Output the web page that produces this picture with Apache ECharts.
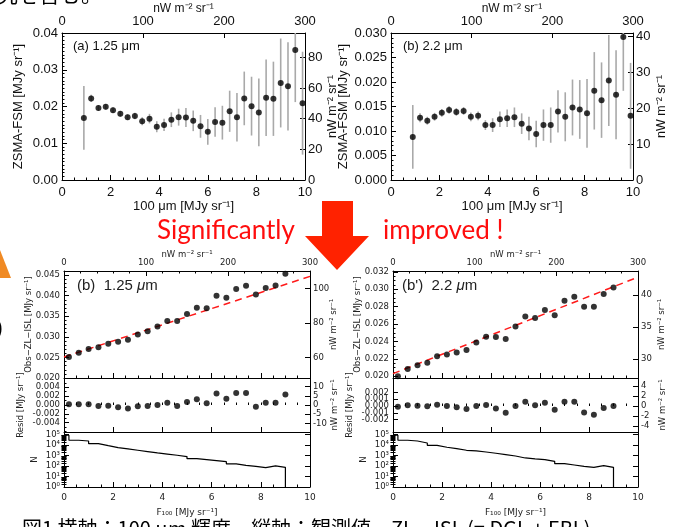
<!DOCTYPE html>
<html><head><meta charset="utf-8">
<script src="https://cdn.jsdelivr.net/npm/echarts@6/dist/echarts.min.js"></script>
<style>html,body{margin:0;padding:0;background:#fff}#c{width:674px;height:527px}</style>
</head><body><div id="c"></div><script>
// ---------------- data ----------------
// unit conversions (nW m^-2 sr^-1 per MJy sr^-1)
const NU100 = 30, NU125 = 2398, NU22 = 1363;

// top panels: ZSMA-FSM vs 100um
const topX = [0.9,1.2,1.5,1.8,2.1,2.4,2.7,3.0,3.3,3.6,3.9,4.2,4.5,4.8,5.1,5.4,5.7,6.0,6.3,6.6,6.9,7.2,7.5,7.8,8.1,8.4,8.7,9.0,9.3,9.6,9.9];
const zsma125 = [0.0169,0.0222,0.0196,0.0199,0.0190,0.0180,0.0171,0.0174,0.0160,0.0167,0.0145,0.0150,0.0164,0.0171,0.0170,0.0161,0.0146,0.0131,0.0158,0.0156,0.0187,0.0171,0.0222,0.0201,0.0184,0.0224,0.0221,0.0264,0.0255,0.0354,0.0209];
const err125 = [0.0087,0.0010,0.0008,0.0008,0.0008,0.0008,0.0008,0.0009,0.0011,0.0013,0.0015,0.0017,0.0020,0.0023,0.0026,0.0028,0.0031,0.0035,0.0040,0.0046,0.0056,0.0066,0.0073,0.0080,0.0092,0.0104,0.0101,0.0121,0.0120,0.0142,0.0140];
const zsma22 = [0.0088,0.0127,0.0121,0.0129,0.0137,0.0143,0.0139,0.0141,0.0129,0.0131,0.0112,0.0112,0.0124,0.0126,0.0128,0.0115,0.0105,0.0094,0.0112,0.0112,0.0140,0.0129,0.0148,0.0144,0.0136,0.0182,0.0163,0.0203,0.0174,0.0292,0.0131];
const err22 = [0.0065,0.0009,0.0008,0.0008,0.0008,0.0008,0.0008,0.0008,0.0009,0.0009,0.0010,0.0014,0.0016,0.0018,0.0020,0.0021,0.0024,0.0027,0.0032,0.0036,0.0043,0.0050,0.0057,0.0060,0.0070,0.0079,0.0077,0.0093,0.0091,0.0110,0.0108];

// bottom panels: Obs-ZL-ISL vs F100
const fitX = [0.2,0.6,1.0,1.4,1.8,2.2,2.6,3.0,3.4,3.8,4.2,4.6,5.0,5.4,5.8,6.2,6.6,7.0,7.4,7.8,8.2,8.6,9.0];
const obs125 = [0.02508,0.02613,0.02702,0.02750,0.02831,0.02879,0.02927,0.03056,0.03137,0.03250,0.03387,0.03387,0.03556,0.03710,0.03694,0.04000,0.03952,0.04161,0.04242,0.04032,0.04185,0.04250,0.04532];
const resid125 = [0.00015,0.00015,0.00015,-0.0002,-0.00015,-0.0005,-0.0008,-0.0003,-0.0002,0.0000,0.0005,-0.0002,0.0007,0.0013,0.0004,0.0026,0.0014,0.0027,0.0027,-0.0004,0.0005,0.0005,0.0024];
const fit125 = [0.0251, 0.00196];   // intercept, slope
const obs22 = [0.02000,0.02084,0.02126,0.02156,0.02229,0.02251,0.02274,0.02301,0.02389,0.02453,0.02450,0.02427,0.02571,0.02686,0.02670,0.02762,0.02701,0.02869,0.02914,0.02800,0.02800,0.02945,0.03021];
const resid22 = [-0.0001,0.0001,0.00005,-0.00005,0.0002,0.0,-0.0002,-0.00045,0.0,0.00015,-0.00035,-0.001,0.0,0.00065,0.0001,0.0005,-0.00055,0.00065,0.00065,-0.00095,-0.0013,-0.0003,0.0];
const fit22 = [0.0203, 0.00111];
// pixel-count histograms (bin left edges, counts)
const histEdges = [0,0.2,0.6,1.0,1.4,1.8,2.2,2.6,3.0,3.4,3.8,4.2,4.6,5.0,5.4,5.8,6.2,6.6,7.0,7.4,7.8,8.2,8.6];
const histEnd = 9.0;
const hist125 = [87000,29000,24500,13800,8900,5800,4300,3200,2400,1800,1400,1070,800,510,410,330,260,160,117,93,71,102,76];
const hist22 = [87000,29000,24500,15800,9500,6200,4600,3200,2750,2200,1660,1230,910,590,480,410,280,170,126,93,76,110,76];

// ticks
const xTicks = [0,2,4,6,8,10], xTickLabels = ['0','2','4','6','8','10'];
const nwTicks = [0,100,200,300], nwTickLabels = ['0','100','200','300'];
const yTicksA = [0,0.01,0.02,0.03,0.04], yLabelsA = ['0.00','0.01','0.02','0.03','0.04'];
const rTicksA = [0,20,40,60,80], rLabelsA = ['0','20','40','60','80'];
const yTicksB = [0,0.005,0.010,0.015,0.020,0.025,0.030], yLabelsB = ['0.000','0.005','0.010','0.015','0.020','0.025','0.030'];
const rTicksB = [0,10,20,30,40], rLabelsB = ['0','10','20','30','40'];
const yTicksC = [0.020,0.025,0.030,0.035,0.040,0.045], yLabelsC = ['0.020','0.025','0.030','0.035','0.040','0.045'];
const rTicksC = [60,80,100], rLabelsC = ['60','80','100'];
const resTicksC = [-0.004,-0.002,0,0.002,0.004], resLabelsC = ['-0.004','-0.002','0.000','0.002','0.004'];
const resRTicksC = [-10,-5,0,5,10], resRLabelsC = ['-10','-5','0','5','10'];
const yTicksD = [0.020,0.022,0.024,0.026,0.028,0.030,0.032], yLabelsD = ['0.020','0.022','0.024','0.026','0.028','0.030','0.032'];
const rTicksD = [30,35,40], rLabelsD = ['30','35','40'];
const resTicksD = [-0.003,-0.002,-0.001,0,0.001,0.002,0.003], resLabelsD = ['-0.003','-0.002','-0.001','0.000','0.001','0.002','0.003'];
const resRTicksD = [-4,-2,0,2,4], resRLabelsD = ['-4','-2','0','2','4'];
const nTicks = [0,1,2,3,4,5], nLabels = ['10⁰','10¹','10²','10³','10⁴','10⁵'];

// ---------------- helpers ----------------
const F1 = 'Liberation Sans', F2 = 'DejaVu Sans';
function range(a, b, step){ const o=[]; for(let k=0; a+k*step <= b+1e-12; k++) o.push(+(a+k*step).toFixed(7)); return o; }
const logMinors = []; for(let n=0;n<=5;n++) for(let k=2;k<=9;k++){ const v=n+Math.log10(k); if(v<5.25) logMinors.push(v); }

const grids=[], xA=[], yA=[], S=[];
function grid(l,t,w,h){ grids.push({left:l,top:t,width:w,height:h,containLabel:false,outerBoundsMode:'none'}); return grids.length-1; }
function addAxis(list, c){
  const near = v => { let b=0; for(let i=1;i<c.majors.length;i++) if(Math.abs(c.majors[i]-v)<Math.abs(c.majors[b]-v)) b=i; return b; };
  const ax = {
    type:'value', gridIndex:c.gi, position:c.pos, min:c.min, max:c.max,
    axisLine:{show:true, onZero:false, lineStyle:{color:'#000', width:1}},
    splitLine:{show:false},
    axisTick:{show:!!c.majors, inside:true, length:c.tickLen||5, customValues:c.majors, lineStyle:{color:'#000', width:1}},
    axisLabel: c.labels ? {show:true, customValues:c.majors, formatter:v=>c.labels[near(v)], fontFamily:c.font, fontSize:c.size, color:c.color||'#111', margin:c.margin, hideOverlap:false} : {show:false},
    nameMoveOverlap:false
  };
  if(c.name){ Object.assign(ax,{name:c.name, nameLocation:'middle', nameGap:c.nameGap, nameTextStyle:{fontFamily:c.font, fontSize:c.nameSize||c.size, color:c.color||'#111'}}); }
  list.push(ax);
  const idx = list.length-1;
  if(c.minors) list.push({type:'value', gridIndex:c.gi, position:c.pos, min:c.min, max:c.max, axisLine:{show:false}, splitLine:{show:false}, axisLabel:{show:false}, axisTick:{show:true, inside:true, length:c.minorLen||2.5, customValues:c.minors, lineStyle:{color:'#000', width:1}}});
  return idx;
}
function errSeries(xi, yi, xs, ys, es, ymin, ymax){
  return {type:'custom', xAxisIndex:xi, yAxisIndex:yi, silent:true, z:1,
    data: xs.map((x,i)=>[x, Math.max(ymin, ys[i]-es[i]), Math.min(ymax, ys[i]+es[i])]),
    encode:{x:0, y:[1,2]},
    renderItem:(p, api)=>{ const a=api.coord([api.value(0), api.value(1)]), b=api.coord([api.value(0), api.value(2)]);
      return {type:'line', shape:{x1:a[0],y1:a[1],x2:b[0],y2:b[1]}, style:{stroke:'#a9a9a9', lineWidth:1.6}}; }};
}
function dots(xi, yi, xs, ys){ return {type:'scatter', xAxisIndex:xi, yAxisIndex:yi, data:xs.map((x,i)=>[x,ys[i]]), symbolSize:6, itemStyle:{color:'#000'}, z:3, silent:true}; }

// ---------------- top panels ----------------
function topPanel(l, w, ys, es, ymax, ymaj, ylab, yminor, nu, rmaj, rlab, lgap, rgap){
  const g = grid(l,33,w,147);
  const xi = addAxis(xA,{gi:g,pos:'bottom',min:0,max:10,majors:xTicks,labels:xTickLabels,minors:range(0,10,0.5),font:F1,size:13,margin:6,name:'100 μm [MJy sr⁻¹]',nameGap:20});
  addAxis(xA,{gi:g,pos:'top',min:0,max:10*NU100,majors:nwTicks,labels:nwTickLabels,font:F1,size:13,margin:5,name:'nW m⁻² sr⁻¹',nameSize:12,nameGap:18});
  const yi = addAxis(yA,{gi:g,pos:'left',min:0,max:ymax,majors:ymaj,labels:ylab,minors:yminor,font:F1,size:13,margin:4,name:'ZSMA-FSM [MJy sr⁻¹]',nameGap:lgap});
  addAxis(yA,{gi:g,pos:'right',min:0,max:ymax*nu,majors:rmaj,labels:rlab,font:F1,size:13,margin:3,name:'nW m⁻² sr⁻¹',nameSize:12.5,nameGap:rgap});
  S.push(errSeries(xi, yi, topX, ys, es, 0, ymax));
  S.push(dots(xi, yi, topX, ys));
}
topPanel(62, 243, zsma125, err125, 0.04, yTicksA, yLabelsA, range(0,0.04,0.001), NU125, rTicksA, rLabelsA, 37, 21);
topPanel(391, 242, zsma22, err22, 0.03, yTicksB, yLabelsB, range(0,0.03,0.001), NU22, rTicksB, rLabelsB, 41, 22);

// ---------------- bottom panels ----------------
function botPanel(l, w, obs, fit, res, hist, nu, ymin, ymax, ymaj, ylab, yminor, rmaj, rlab, rmin, rmax, resmaj, reslab, resminor, resRmaj, resRlab){
  const g1 = grid(l,271,w,107), g2 = grid(l,378,w,54), g3 = grid(l,432,w,55);
  const c = {font:F2, size:8.5, color:'#222'};
  const x1 = addAxis(xA,{gi:g1,pos:'bottom',min:0,max:10,majors:xTicks,minors:range(0,10,0.5)});
  addAxis(xA,Object.assign({gi:g1,pos:'top',min:0,max:10*NU100,majors:nwTicks,labels:nwTickLabels,minors:range(0,300,20),margin:4,name:'nW m⁻² sr⁻¹',nameGap:12},c));
  const y1 = addAxis(yA,Object.assign({gi:g1,pos:'left',min:ymin,max:ymax,majors:ymaj,labels:ylab,minors:yminor,margin:4,name:'Obs−ZL−ISL [MJy sr⁻¹]',nameGap:31},c));
  addAxis(yA,Object.assign({gi:g1,pos:'right',min:ymin*nu,max:ymax*nu,majors:rmaj,labels:rlab,margin:3,name:'nW m⁻² sr⁻¹',nameGap:19},c));
  const x2 = addAxis(xA,{gi:g2,pos:'bottom',min:0,max:10,majors:xTicks,minors:range(0,10,0.5)});
  const y2 = addAxis(yA,Object.assign({gi:g2,pos:'left',min:rmin,max:rmax,majors:resmaj,labels:reslab,minors:resminor,margin:4,name:'Resid [MJy sr⁻¹]',nameGap:39},c));
  addAxis(yA,Object.assign({gi:g2,pos:'right',min:rmin*nu,max:rmax*nu,majors:resRmaj,labels:resRlab,margin:3,name:'nW m⁻² sr⁻¹',nameGap:20},c));
  const x3 = addAxis(xA,Object.assign({gi:g3,pos:'bottom',min:0,max:10,majors:xTicks,labels:xTickLabels,minors:range(0,10,0.5),margin:6,name:'F₁₀₀ [MJy sr⁻¹]',nameGap:21},c,{size:9}));
  const y3 = addAxis(yA,Object.assign({gi:g3,pos:'left',min:0,max:5.25,majors:nTicks,labels:nLabels,minors:logMinors,margin:4,name:'N',nameGap:25},c));
  addAxis(yA,{gi:g3,pos:'right',min:0,max:5.25,majors:nTicks,minors:logMinors});
  S.push(dots(x1,y1,fitX,obs));
  S.push({type:'line', xAxisIndex:x1, yAxisIndex:y1, data:[[0,fit[0]],[10,fit[0]+10*fit[1]]], symbol:'none', silent:true, z:2,
    lineStyle:{color:'#ff1a1a', width:1.5, type:[7,5]}});
  S.push(dots(x2,y2,fitX,res));
  S.push({type:'line', xAxisIndex:x3, yAxisIndex:y3, step:'end', symbol:'none', silent:true,
    data: histEdges.map((e,i)=>[e, Math.log10(hist[i])]).concat([[histEnd, 0]]), lineStyle:{color:'#000', width:1.2}});
}
botPanel(64, 246, obs125, fit125, resid125, hist125, NU125, 0.020, 0.046, yTicksC, yLabelsC, range(0.020,0.046,0.001), rTicksC, rLabelsC,
  -0.0061, 0.0061, resTicksC, resLabelsC, range(-0.006,0.006,0.001), resRTicksC, resRLabelsC);
botPanel(393, 245, obs22, fit22, resid22, hist22, NU22, 0.0198, 0.0321, yTicksD, yLabelsD, range(0.020,0.032,0.0005), rTicksD, rLabelsD,
  -0.00385, 0.00415, resTicksD, resLabelsD, null, resRTicksD, resRLabelsD);

// ---------------- annotations ----------------
const panelLabel = (x, y, pre, wl) => ({type:'text', x, y, silent:true, style:{text:'{n|'+pre+'}{i|μ}{n|m}', verticalAlign:'middle',
  rich:{n:{fontFamily:F1, fontSize:wl, fill:'#222'}, i:{fontFamily:F1, fontSize:wl, fontStyle:'italic', fill:'#222'}}}});
const graphic = [
  {type:'text', x:73, y:46, silent:true, style:{text:'(a) 1.25 μm', fontFamily:F1, fontSize:13, fill:'#111', verticalAlign:'middle'}},
  {type:'text', x:403, y:46, silent:true, style:{text:'(b) 2.2 μm', fontFamily:F1, fontSize:13, fill:'#111', verticalAlign:'middle'}},
  panelLabel(77, 286, '(b)  1.25 ', 15),
  panelLabel(402, 286, "(b')  2.2 ", 15),
  {type:'polygon', silent:true, shape:{points:[[322,201],[353,201],[353,236],[369,236],[337,270],[305,236],[322,236]]}, style:{fill:'#ff2200'}},
  {type:'text', x:157, y:231, silent:true, style:{text:'Significantly', fontFamily:'Lato', fontSize:26, fill:'#ff0d0d', verticalAlign:'middle'}},
  {type:'text', x:383, y:231, silent:true, style:{text:'improved !', fontFamily:'Lato', fontSize:26, fill:'#ff0d0d', verticalAlign:'middle'}},
  {type:'polygon', silent:true, shape:{points:[[0,250],[11,278],[0,278]]}, style:{fill:'#f08a24'}},
  {type:'text', x:-5, y:316, silent:true, style:{text:')', fontFamily:F1, fontSize:24, fill:'#000'}},
  {type:'text', x:-3, y:-16, silent:true, style:{text:'究を含む。', fontFamily:'Noto Sans CJK JP', fontSize:21, fill:'#000'}},
  {type:'text', x:22, y:518, silent:true, style:{text:'図1 横軸：100 μm 輝度、縦軸：観測値 − ZL − ISL (= DGL + EBL)', fontFamily:'Noto Sans CJK JP', fontSize:20, fill:'#000'}}
];

const chart = echarts.init(document.getElementById('c'), null, {renderer:'canvas'});
chart.setOption({animation:false, backgroundColor:'#fff', grid:grids, xAxis:xA, yAxis:yA, series:S, graphic});
</script></body></html>
